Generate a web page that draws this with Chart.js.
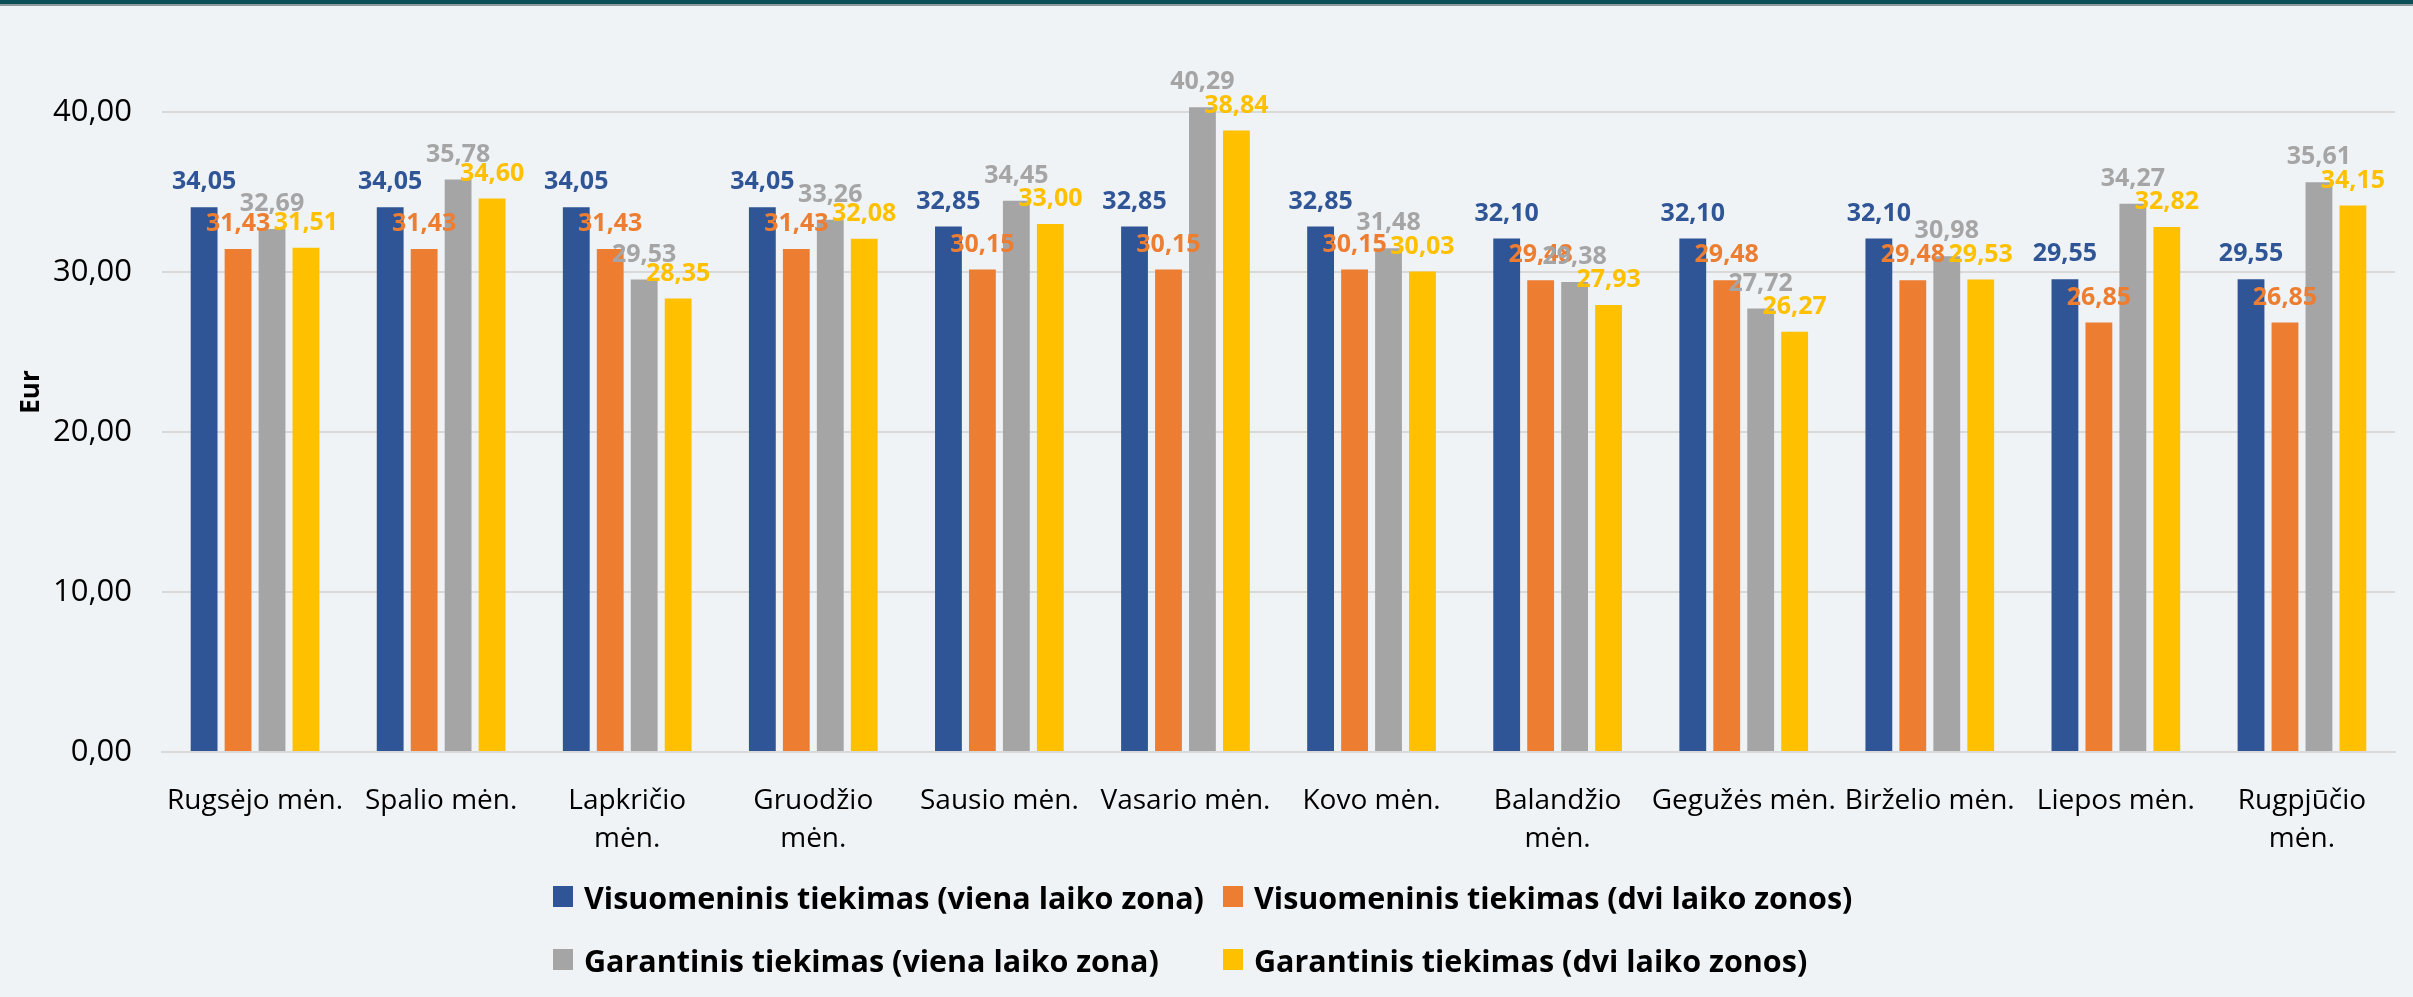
<!DOCTYPE html>
<html>
<head>
<meta charset="utf-8">
<script src="https://cdn.jsdelivr.net/npm/chart.js@4.4.1/dist/chart.umd.min.js"></script>
<style>
  html, body { margin: 0; padding: 0; background: #EFF3F6; }
  #wrap { position: relative; width: 2413px; height: 997px; background: #EFF3F6; overflow: hidden; }
  #topbar { position: absolute; left: 0; top: 0; width: 2413px; height: 4px; background: #0C4F59; border-bottom: 2px solid #8C9A9C; }
  #chart { position: absolute; left: 0; top: 0; }
  #legend { position: absolute; left: 553px; top: 865px; display: grid; grid-template-columns: 670px auto; font-family: "Open Sans", sans-serif; font-weight: bold; font-size: 30.5px; color: #000; }
  #legend .item { display: flex; align-items: center; height: 63px; white-space: nowrap; }
  #legend .box { width: 20px; height: 21px; margin-right: 11px; }
</style>
</head>
<body>
<div id="wrap">
  <canvas id="chart" width="2413" height="997"></canvas>
  <div id="topbar"></div>
  <div id="legend"></div>
</div>
<script>
const months = ["Rugsėjo mėn.", "Spalio mėn.", ["Lapkričio", "mėn."], ["Gruodžio", "mėn."], "Sausio mėn.", "Vasario mėn.",
  "Kovo mėn.", ["Balandžio", "mėn."], "Gegužės mėn.", "Birželio mėn.", "Liepos mėn.", ["Rugpjūčio", "mėn."]];

const seriesNames = [
  "Visuomeninis tiekimas (viena laiko zona)",
  "Visuomeninis tiekimas (dvi laiko zonos)",
  "Garantinis tiekimas (viena laiko zona)",
  "Garantinis tiekimas (dvi laiko zonos)"
];
const seriesColors = ["#2F5597", "#ED7D31", "#A5A5A5", "#FFC000"];

const publicOneZone = [34.05, 34.05, 34.05, 34.05, 32.85, 32.85, 32.85, 32.10, 32.10, 32.10, 29.55, 29.55];
const publicTwoZones = [31.43, 31.43, 31.43, 31.43, 30.15, 30.15, 30.15, 29.48, 29.48, 29.48, 26.85, 26.85];
const guaranteeOneZone = [32.69, 35.78, 29.53, 33.26, 34.45, 40.29, 31.48, 29.38, 27.72, 30.98, 34.27, 35.61];
const guaranteeTwoZones = [31.51, 34.60, 28.35, 32.08, 33.00, 38.84, 30.03, 27.93, 26.27, 29.53, 32.82, 34.15];

const yTicks = [0, 10, 20, 30, 40];
const yMax = 45;

const FONT = '"Open Sans", sans-serif';

function fmt(v) {
  return v.toFixed(2).replace(".", ",");
}

// value labels above each bar, same colour as the bar
const valueLabels = {
  id: "valueLabels",
  afterDatasetsDraw(chart) {
    const ctx = chart.ctx;
    ctx.save();
    ctx.font = "bold 25px " + FONT;
    ctx.textAlign = "center";
    ctx.textBaseline = "middle";
    chart.data.datasets.forEach((ds, i) => {
      const meta = chart.getDatasetMeta(i);
      meta.data.forEach((bar, j) => {
        ctx.fillStyle = ds.backgroundColor;
        ctx.fillText(fmt(ds.data[j]), bar.x, bar.y - 25);
      });
    });
    ctx.restore();
  }
};

const allSeries = [publicOneZone, publicTwoZones, guaranteeOneZone, guaranteeTwoZones];

const ctx = document.getElementById("chart").getContext("2d");
const chart = new Chart(ctx, {
  type: "bar",
  data: {
    labels: months,
    datasets: allSeries.map((d, i) => ({
      label: seriesNames[i],
      data: d,
      backgroundColor: seriesColors[i],
      categoryPercentage: 0.73,
      barPercentage: 0.79
    }))
  },
  options: {
    responsive: false,
    animation: false,
    devicePixelRatio: 1,
    layout: { padding: { left: 0, right: 18, top: 32, bottom: 0 } },
    plugins: {
      legend: { display: false },
      tooltip: { enabled: false }
    },
    scales: {
      x: {
        grid: { display: false },
        border: { display: true, color: "#D9D9D9", width: 2 },
        ticks: {
          color: "#000",
          font: { family: FONT, size: 28, lineHeight: 1.35 },
          padding: 22,
          maxRotation: 0,
          autoSkip: false
        },
        afterFit(scale) { scale.height = 245; }
      },
      y: {
        min: 0,
        max: yMax,
        afterBuildTicks(scale) { scale.ticks = yTicks.map(v => ({ value: v })); },
        grid: { color: "#D9D9D9", lineWidth: 2, drawTicks: false },
        border: { display: false },
        ticks: {
          color: "#000",
          font: { family: FONT, size: 31 },
          padding: 30,
          callback: v => fmt(v)
        },
        title: {
          display: true,
          text: "Eur",
          color: "#000",
          font: { family: FONT, size: 26, weight: "bold" },
          padding: { top: 16, bottom: 0 }
        },
        afterFit(scale) {
          scale.width = 162;
          scale.paddingTop = 0;
          scale.paddingBottom = 0;
        }
      }
    }
  },
  plugins: [valueLabels]
});

// legend laid out as a 2x2 grid like the original
const legendEl = document.getElementById("legend");
seriesNames.forEach((name, i) => {
  const item = document.createElement("div");
  item.className = "item";
  item.innerHTML = `<span class="box" style="background:${seriesColors[i]}"></span><span>${name}</span>`;
  legendEl.appendChild(item);
});
</script>
</body>
</html>
